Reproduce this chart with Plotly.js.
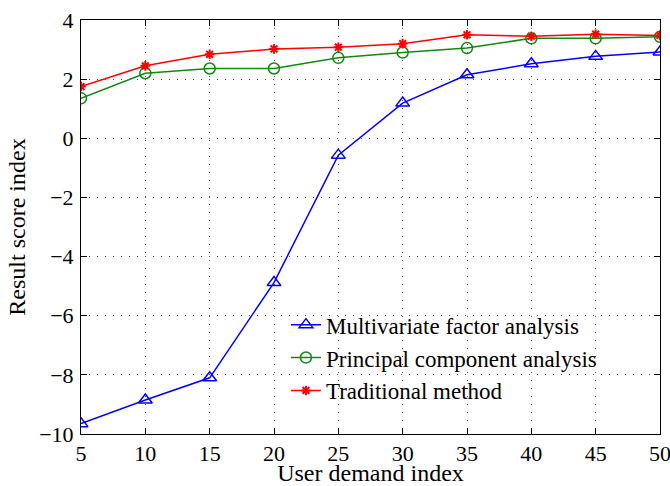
<!DOCTYPE html>
<html>
<head>
<meta charset="utf-8">
<script src="https://cdn.plot.ly/plotly-3.0.1.min.js"></script>
<style>html,body{margin:0;padding:0;background:#fff;}#chart{width:670px;height:486px;}</style>
</head>
<body>
<div id="chart"></div>
<script>
const xValues = [5, 10, 15, 20, 25, 30, 35, 40, 45, 50];
const multivariate = [-9.65, -8.85, -8.1, -4.88, -0.57, 1.19, 2.15, 2.52, 2.77, 2.92];
const principal = [1.35, 2.2, 2.36, 2.36, 2.72, 2.9, 3.05, 3.38, 3.38, 3.43];
const traditional = [1.75, 2.45, 2.84, 3.02, 3.08, 3.2, 3.5, 3.45, 3.52, 3.48];
const seriesNames = ['Multivariate factor analysis', 'Principal component analysis', 'Traditional method'];
const xTicks = [5, 10, 15, 20, 25, 30, 35, 40, 45, 50];
const yTicks = [-10, -8, -6, -4, -2, 0, 2, 4];

const font = 'Liberation Serif';
const traces = [
  {x: xValues, y: multivariate, name: seriesNames[0], legendgroup: 'a', mode: 'lines+markers',
   line: {color: '#0000ff', width: 1.5},
   marker: {symbol: 'triangle-up-open', size: 12, color: '#0000ff', line: {width: 1.5, color: '#0000ff'}}},
  {x: xValues, y: principal, name: seriesNames[1], legendgroup: 'b', mode: 'lines+markers',
   line: {color: '#108a10', width: 1.5},
   marker: {symbol: 'circle-open', size: 11, color: '#108a10', line: {width: 1.5, color: '#108a10'}}},
  {x: xValues, y: traditional, name: seriesNames[2], legendgroup: 'c', mode: 'lines+markers',
   line: {color: '#ff0000', width: 1.5},
   marker: {symbol: 'asterisk-open', size: 8, color: '#ff0000', line: {width: 2, color: '#ff0000'}}}
];
const axisCommon = {
  showline: true, mirror: 'ticks', linecolor: '#000', linewidth: 1,
  ticks: 'inside', ticklen: 6, tickcolor: '#000',
  showgrid: true, gridcolor: '#555', griddash: '1px,7px', gridwidth: 1,
  zeroline: false, tickfont: {family: font, size: 22, color: '#000'},
  ticklabeloverflow: 'allow'
};
const layout = {
  width: 670, height: 486,
  margin: {l: 81, r: 10, t: 20, b: 52},
  paper_bgcolor: '#fff', plot_bgcolor: '#fff',
  font: {family: font, color: '#000'},
  showlegend: true,
  legend: {x: 0.354, y: 0.316, xanchor: 'left', yanchor: 'top', bgcolor: 'rgba(255,255,255,0)',
           font: {family: font, size: 23, color: '#000'}, tracegroupgap: 6, traceorder: 'normal'},
  xaxis: Object.assign({}, axisCommon, {
    range: [5, 50], tickvals: xTicks, ticktext: xTicks.map(String),
    title: {text: 'User demand index', font: {family: font, size: 24, color: '#000'}, standoff: 7}
  }),
  yaxis: Object.assign({}, axisCommon, {
    range: [-10, 4], tickvals: yTicks, ticktext: yTicks.map(v => v < 0 ? '\u2212' + Math.abs(v) : String(v)),
    ticklabelstandoff: 2,
    title: {text: 'Result score index', font: {family: font, size: 24, color: '#000'}, standoff: 6}
  })
};
Plotly.newPlot('chart', traces, layout, {displayModeBar: false, staticPlot: true});
</script>
</body>
</html>
